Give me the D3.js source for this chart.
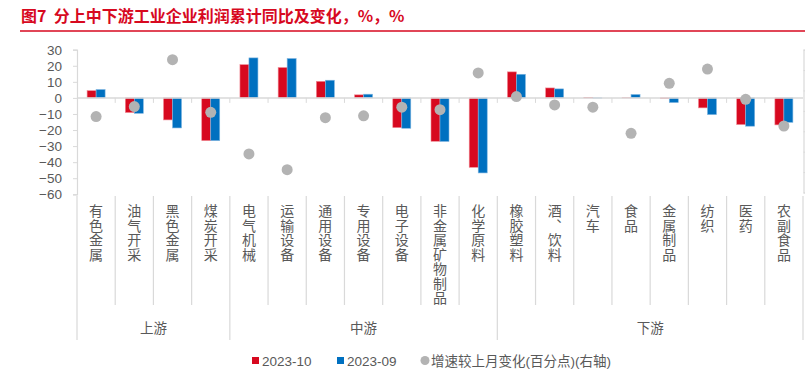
<!DOCTYPE html>
<html>
<head>
<meta charset="utf-8">
<script src="https://cdn.jsdelivr.net/npm/d3@7"></script>
<style>
  body { margin: 0; background: #fff; }
  svg text { font-family: "Liberation Sans", Arial, "Noto Sans CJK SC", sans-serif; }
</style>
</head>
<body>
<div id="chart"></div>
<script>
// categories and groups
const categories = ["有色金属", "油气开采", "黑色金属", "煤炭开采", "电气机械", "运输设备", "通用设备", "专用设备", "电子设备",
  "非金属矿物制品", "化学原料", "橡胶塑料", "酒、饮料", "汽车", "食品", "金属制品", "纺织", "医药", "农副食品"];
const groups = [
  { name: "上游", from: 0, to: 4 },
  { name: "中游", from: 4, to: 11 },
  { name: "下游", from: 11, to: 19 }
];
// series values
const oct2023 = [4.5, -9.1, -13.7, -26.6, 20.7, 18.9, 10.3, 1.9, -18.5, -27.0, -43.2, 16.2, 6.2, 0.3, 0.1, -0.3, -6.2, -16.6, -16.8];
const sep2023 = [5.2, -9.6, -18.7, -26.6, 24.9, 24.5, 11.0, 2.3, -18.9, -27.1, -46.7, 14.7, 5.6, -0.1, 2.1, -2.9, -10.4, -17.6, -15.2];
const change = [-2.8, 2.1, 25.1, -0.7, -21.1, -28.8, -3.3, -2.4, 1.8, 0.6, 18.6, 7.0, 2.9, 1.8, -11.0, 13.5, 20.5, 5.7, -7.4];
// tick labels
const leftTicks = [30, 20, 10, 0, -10, -20, -30, -40, -50, -60];
const rightTicks = [30, 20, 10, 0, -10, -20, -30, -40];

const width = 805, height = 381;
const margin = { top: 49.7, left: 77, right: 2, plotBottom: 194.3 };
const red = "#d7091f", blue = "#0070c0", grey = "#b3b3b3", axisGrey = "#d9d9d9", textGrey = "#595959";
const cjk = "'Noto Sans CJK SC', sans-serif";

const svg = d3.select("#chart").append("svg")
  .attr("width", width).attr("height", height);

// title
svg.append("text")
  .attr("x", 21).attr("y", 22)
  .attr("fill", "#d7091f")
  .attr("font-size", 16).attr("font-weight", "bold")
  .style("font-family", cjk)
  .style("white-space", "pre")
  .text("图7  分上中下游工业企业利润累计同比及变化，%，%");
svg.append("line")
  .attr("x1", 20).attr("x2", width).attr("y1", 31).attr("y2", 31)
  .attr("stroke", "#d7091f").attr("stroke-width", 1.5);

// scales
const x = d3.scaleBand().domain(categories).range([margin.left, width - margin.right]).padding(0);
const xInner = d3.scaleBand().domain(["2023-10", "2023-09"]).range([0, 18]);
const y = d3.scaleLinear().domain([-60, 30]).range([margin.plotBottom, margin.top]);
const yRight = d3.scaleLinear().domain([-40, 30]).range([192.5, margin.top]);

// left axis
const leftAxis = svg.append("g")
  .attr("transform", `translate(${margin.left},0)`)
  .call(d3.axisLeft(y).tickValues(leftTicks).tickSize(4).tickPadding(11));
leftAxis.select(".domain").attr("stroke", axisGrey).attr("stroke-width", 1.2);
leftAxis.selectAll(".tick line").attr("stroke", axisGrey);
leftAxis.selectAll(".tick text").attr("fill", textGrey).attr("font-size", 13.5)
  .style("font-family", "'Liberation Sans', Arial, sans-serif");

// right axis: its labels sit outside the picture, so only line and ticks
const rightAxis = svg.append("g")
  .attr("transform", `translate(${width - 1.5},0)`)
  .call(d3.axisRight(yRight).tickValues(rightTicks).tickSize(4).tickFormat(""));
rightAxis.select(".domain").attr("stroke", axisGrey).attr("stroke-width", 1.2);
rightAxis.selectAll(".tick line").attr("stroke", axisGrey);
rightAxis.selectAll(".tick text").remove();

// bars
const series = [
  { key: "2023-10", values: oct2023, color: red, edge: "#f08a95" },
  { key: "2023-09", values: sep2023, color: blue, edge: "#7fb5e0" }
];
series.forEach(s => {
  svg.append("g").selectAll("rect")
    .data(categories)
    .join("rect")
    .attr("x", (d, i) => x(d) + (x.bandwidth() - 18) / 2 + xInner(s.key))
    .attr("y", (d, i) => y(Math.max(0, s.values[i])))
    .attr("width", xInner.bandwidth())
    .attr("height", (d, i) => Math.abs(y(s.values[i]) - y(0)))
    .attr("fill", s.color)
    .attr("stroke", s.edge)
    .attr("stroke-width", 0.6);
});

// zero line with small ticks at category boundaries
svg.append("line")
  .attr("x1", margin.left).attr("x2", width - margin.right)
  .attr("y1", y(0)).attr("y2", y(0))
  .attr("stroke", axisGrey).attr("stroke-width", 1.5);
const bounds = categories.map(d => x(d)).concat([x(categories[categories.length - 1]) + x.bandwidth()]);
svg.append("g").selectAll("line")
  .data(bounds.slice(1, -1))
  .join("line")
  .attr("x1", d => d).attr("x2", d => d)
  .attr("y1", y(0)).attr("y2", y(0) + 5)
  .attr("stroke", axisGrey);

// dots on right axis
svg.append("g").selectAll("circle")
  .data(categories)
  .join("circle")
  .attr("cx", d => x(d) + x.bandwidth() / 2)
  .attr("cy", (d, i) => yRight(change[i]))
  .attr("r", 5.5)
  .attr("fill", grey);

// category separators below the plot
const groupEdges = new Set(groups.map(g => g.from).concat([categories.length]));
svg.append("g").selectAll("line")
  .data(bounds)
  .join("line")
  .attr("x1", d => d).attr("x2", d => d)
  .attr("y1", 196)
  .attr("y2", (d, i) => groupEdges.has(i) ? 340 : 305)
  .attr("stroke", axisGrey).attr("stroke-width", 1.2);

// vertical category labels, one glyph per line
const labels = svg.append("g").selectAll("text")
  .data(categories)
  .join("text")
  .attr("text-anchor", "middle")
  .style("font-family", cjk)
  .attr("font-size", 14)
  .attr("fill", textGrey);
labels.selectAll("tspan")
  .data(d => Array.from(d.replace("、", "︑")).map(ch => ({ ch, cx: x(d) + x.bandwidth() / 2 })))
  .join("tspan")
  .attr("x", c => c.cx)
  .attr("y", (c, i) => 216 + i * 14.5)
  .text(c => c.ch);

// group labels
svg.append("g").selectAll("text")
  .data(groups)
  .join("text")
  .attr("x", g => (bounds[g.from] + bounds[g.to]) / 2)
  .attr("y", 333)
  .attr("text-anchor", "middle")
  .style("font-family", cjk)
  .attr("font-size", 13.5)
  .attr("fill", textGrey)
  .text(g => g.name);

// legend
const legend = svg.append("g").attr("transform", "translate(0,361)");
const legendItems = [
  { label: "2023-10", color: red, shape: "rect", x: 252 },
  { label: "2023-09", color: blue, shape: "rect", x: 337 },
  { label: "增速较上月变化(百分点)(右轴)", color: grey, shape: "circle", x: 421 }
];
legendItems.forEach(it => {
  if (it.shape === "rect") {
    legend.append("rect").attr("x", it.x).attr("y", -4).attr("width", 7).attr("height", 7).attr("fill", it.color);
  } else {
    legend.append("circle").attr("cx", it.x + 4).attr("cy", -0.5).attr("r", 4.5).attr("fill", it.color);
  }
  legend.append("text")
    .attr("x", it.x + 10).attr("y", 5)
    .attr("font-size", 13.5).attr("fill", textGrey)
    .text(it.label);
});
</script>
</body>
</html>
